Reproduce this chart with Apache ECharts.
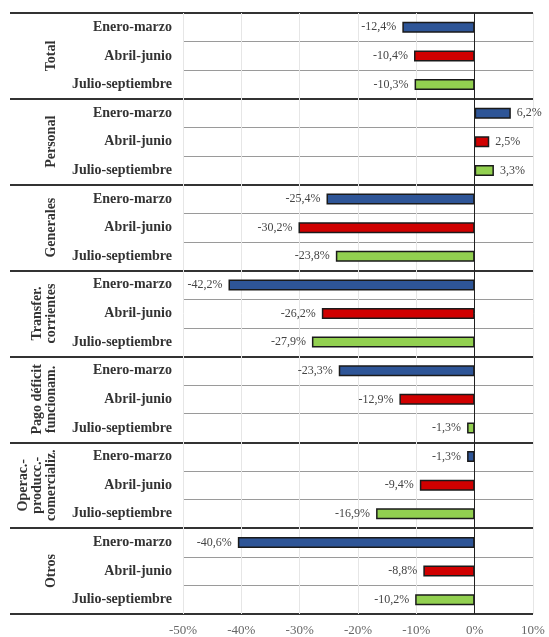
<!DOCTYPE html>
<html>
<head>
<meta charset="utf-8">
<script src="https://cdn.jsdelivr.net/npm/echarts@6/dist/echarts.min.js"></script>
<style>
  html, body { margin: 0; padding: 0; background: #fff; }
  #chart { width: 549px; height: 637px; }
</style>
</head>
<body>
<div id="chart"></div>
<script>
// datos del gráfico
const grupos = ['Total', 'Personal', 'Generales', 'Transfer.\ncorrientes', 'Pago déficit\nfuncionam.', 'Operac.-\nproducc.-\ncomercializ.', 'Otros'];
const periodos = ['Enero-marzo', 'Abril-junio', 'Julio-septiembre'];
const eneroMarzo = [-12.4, 6.2, -25.4, -42.2, -23.3, -1.3, -40.6];
const abrilJunio = [-10.4, 2.5, -30.2, -26.2, -12.9, -9.4, -8.8];
const julioSeptiembre = [-10.3, 3.3, -23.8, -27.9, -1.3, -16.9, -10.2];
const colores = ['#2E5597', '#D00000', '#92D050'];

const serif = '"Liberation Serif", "DejaVu Serif", serif';
const porPeriodo = [eneroMarzo, abrilJunio, julioSeptiembre];

// una fila por grupo y periodo
const filas = [];
const datos = [];
grupos.forEach((g, gi) => {
    periodos.forEach((p, pi) => {
        const v = porPeriodo[pi][gi];
        filas.push(p);
        datos.push({
            value: v,
            itemStyle: { color: colores[pi] },
            label: { position: v < 0 ? 'left' : 'right' }
        });
    });
});

const chart = echarts.init(document.getElementById('chart'));
const option = {
    animation: false,
    grid: { left: 183, right: 16, top: 13, bottom: 23 },
    xAxis: {
        type: 'value',
        min: -50,
        max: 10,
        interval: 10,
        axisLine: { show: false },
        axisTick: { show: false },
        splitLine: { lineStyle: { color: '#e6e6e6', width: 1 } },
        axisLabel: {
            formatter: v => v + '%',
            color: '#666',
            fontFamily: serif,
            fontSize: 13,
            margin: 10
        }
    },
    yAxis: [
        {
            type: 'category',
            data: filas,
            inverse: true,
            axisLine: { show: false },
            axisTick: { show: false },
            splitLine: { show: true, interval: 0, lineStyle: { color: '#9a9a9a', width: 1 } },
            axisLabel: {
                interval: 0,
                color: '#333',
                fontFamily: serif,
                fontWeight: 'bold',
                fontSize: 14,
                margin: 11
            }
        },
        {
            type: 'category',
            data: grupos,
            inverse: true,
            position: 'left',
            axisLine: { show: false },
            axisTick: { show: true, interval: 0, length: 173, lineStyle: { color: '#333', width: 2 } },
            splitLine: { show: true, interval: 0, lineStyle: { color: '#333', width: 2 } },
            axisLabel: {
                interval: 0,
                rotate: 90,
                color: '#333',
                fontFamily: serif,
                fontWeight: 'bold',
                fontSize: 14,
                lineHeight: 14,
                margin: 125
            }
        }
    ],
    series: [
        {
            type: 'bar',
            yAxisIndex: 0,
            barWidth: 11,
            data: datos,
            itemStyle: { borderColor: '#1a1a1a', borderWidth: 1.5 },
            label: {
                show: true,
                distance: 6,
                color: '#444',
                fontFamily: serif,
                fontSize: 12,
                formatter: p => p.value.toFixed(1).replace('.', ',') + '%'
            },
            markLine: {
                silent: true,
                symbol: 'none',
                label: { show: false },
                lineStyle: { color: '#222', type: 'solid', width: 1 },
                data: [{ xAxis: 0 }]
            }
        }
    ]
};
chart.setOption(option);
</script>
</body>
</html>
